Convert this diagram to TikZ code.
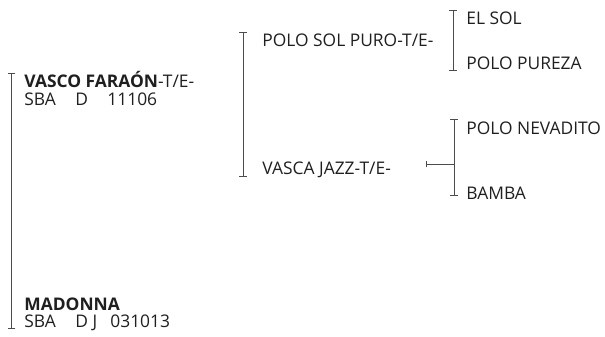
\documentclass[tikz,border=0pt]{standalone}
\usepackage{fontspec}
\setmainfont{Open Sans}
\usetikzlibrary{arrows.meta, positioning}

\begin{document}
\begin{tikzpicture}[x=1pt, y=-1pt,
    % uniform thin grey lines for all brackets
    every path/.style={color=black!70, line width=0.8pt},
    % default style for the horse names
    every node/.style={color=black!88, font=\fontsize{17.4}{20}\selectfont}
  ]
  % --- styles ---
  \tikzset{horse/.style={anchor=base west, inner sep=0pt},
    bracket/.style={{Bar[width=7.5pt]}-{Bar[width=7.5pt]}}}
  \useasboundingbox (0,0) rectangle (605,337);

  % --- Generation 1: sire and dam ---
  \node[horse] (sire) at (24, 88) {\textbf{VASCO FARAÓN}-T/E-};
  \node[horse] (sirereg) at (24, 105) {\makebox[51pt][l]{SBA}\makebox[32pt][l]{D}11106};
  \node[horse] (dam) at (24, 310) {\textbf{MADONNA}};
  \node[horse] (damreg) at (24, 327) {\makebox[51pt][l]{SBA}\makebox[35pt][l]{D J}031013};
  \coordinate (b1top) at (11.5, 73);
  \coordinate (b1bot) at (11.5, 329);
  \draw[bracket] (b1top) -- (b1bot);

  % --- Generation 2: sire's parents ---
  \node[horse] (ss) at (262, 47) {POLO SOL PURO-T/E-};
  \node[horse] (sd) at (262, 174) {VASCA JAZZ-T/E-};
  \coordinate (b2top) at (243, 32);
  \coordinate (b2bot) at (243, 177);
  \draw[bracket] (b2top) -- (b2bot);

  % --- Generation 3 ---
  \node[horse] (sss) at (466, 25) {EL SOL};
  \node[horse] (ssd) at (466, 70) {POLO PUREZA};
  \coordinate (b3top) at (453, 10);
  \coordinate (b3bot) at (453, 71);
  \draw[bracket] (b3top) -- (b3bot);

  \node[horse] (sds) at (466, 134) {POLO NEVADITO};
  \node[horse] (sdd) at (466, 199) {BAMBA};
  \coordinate (b4top) at (454, 119);
  \coordinate (b4bot) at (454, 196);
  \coordinate (b4mid) at (454, 164);
  \coordinate (b4in) at (426, 164);
  \draw[bracket] (b4top) -- (b4bot);
  \draw[{Bar[width=6.5pt]}-] (b4in) -- (b4mid);
\end{tikzpicture}
\end{document}
